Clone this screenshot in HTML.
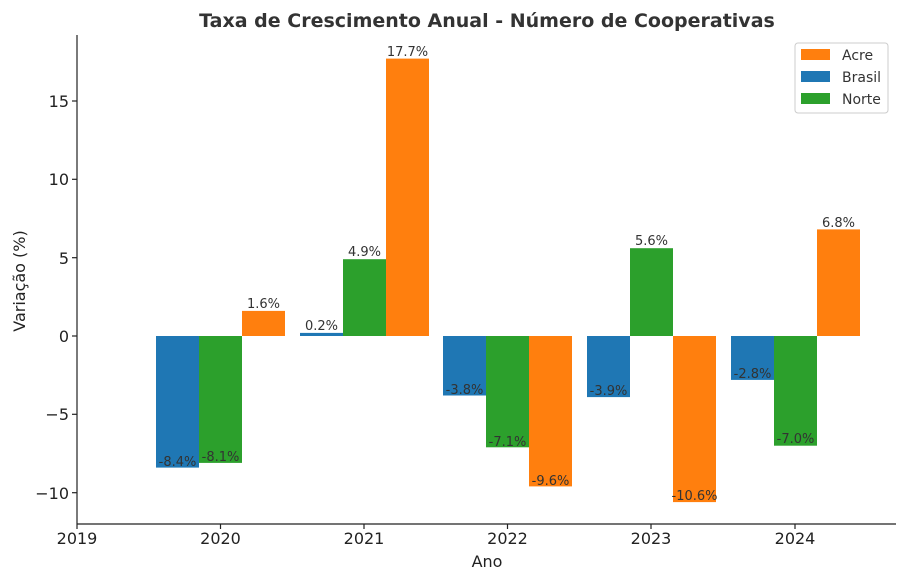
<!DOCTYPE html>
<html><head><meta charset="utf-8"><style>body{margin:0;background:#fff}svg{display:block;font-family:"DejaVu Sans","Liberation Sans",sans-serif}</style></head>
<body>
<svg width="906" height="581" viewBox="0 0 906 581" xmlns="http://www.w3.org/2000/svg">
<rect width="906" height="581" fill="#fff"/>
<text x="487" y="27" text-anchor="middle" font-size="19" font-weight="bold" fill="#333">Taxa de Crescimento Anual - Número de Cooperativas</text>
<g fill="#1f77b4">
<rect x="156" y="336" width="43" height="131.6"/>
<rect x="300" y="332.9" width="43" height="3.1"/>
<rect x="443" y="336" width="43" height="59.5"/>
<rect x="587" y="336" width="43" height="61.1"/>
<rect x="731" y="336" width="43" height="43.9"/>
</g>
<g fill="#2ca02c">
<rect x="199" y="336" width="43" height="126.9"/>
<rect x="343" y="259.2" width="43" height="76.8"/>
<rect x="486" y="336" width="43" height="111.3"/>
<rect x="630" y="248.2" width="43" height="87.8"/>
<rect x="774" y="336" width="43" height="109.7"/>
</g>
<g fill="#ff7f0e">
<rect x="242" y="310.9" width="43" height="25.1"/>
<rect x="386" y="58.6" width="43" height="277.4"/>
<rect x="529" y="336" width="43" height="150.4"/>
<rect x="673" y="336" width="43" height="166.1"/>
<rect x="817" y="229.4" width="43" height="106.6"/>
</g>
<g font-size="13" fill="#333" text-anchor="middle">
<text x="177.5" y="466">-8.4%</text>
<text x="220.5" y="461">-8.1%</text>
<text x="263.5" y="308">1.6%</text>
<text x="321.5" y="330">0.2%</text>
<text x="364.5" y="256">4.9%</text>
<text x="407.5" y="56">17.7%</text>
<text x="464.5" y="394">-3.8%</text>
<text x="507.5" y="446">-7.1%</text>
<text x="550.5" y="485">-9.6%</text>
<text x="608.5" y="395">-3.9%</text>
<text x="651.5" y="245">5.6%</text>
<text x="694.5" y="500">-10.6%</text>
<text x="752.5" y="378">-2.8%</text>
<text x="795.5" y="443">-7.0%</text>
<text x="838.5" y="227">6.8%</text>
</g>
<g stroke="#222" stroke-width="1.2" fill="none">
<line x1="77" y1="35" x2="77" y2="524"/>
<line x1="77" y1="524" x2="896" y2="524"/>
<line x1="72" y1="101" x2="77" y2="101"/>
<line x1="72" y1="179.3" x2="77" y2="179.3"/>
<line x1="72" y1="257.7" x2="77" y2="257.7"/>
<line x1="72" y1="336" x2="77" y2="336"/>
<line x1="72" y1="414.3" x2="77" y2="414.3"/>
<line x1="72" y1="492.7" x2="77" y2="492.7"/>
<line x1="77" y1="524" x2="77" y2="529"/>
<line x1="220.5" y1="524" x2="220.5" y2="529"/>
<line x1="364" y1="524" x2="364" y2="529"/>
<line x1="507.5" y1="524" x2="507.5" y2="529"/>
<line x1="651" y1="524" x2="651" y2="529"/>
<line x1="795" y1="524" x2="795" y2="529"/>
</g>
<g font-size="16" fill="#222" text-anchor="end">
<text x="69" y="107">15</text>
<text x="69" y="185">10</text>
<text x="69" y="264">5</text>
<text x="69" y="342">0</text>
<text x="69" y="420">−5</text>
<text x="69" y="499">−10</text>
</g>
<g font-size="16" fill="#222" text-anchor="middle">
<text x="77" y="544">2019</text>
<text x="220.5" y="544">2020</text>
<text x="364" y="544">2021</text>
<text x="507.5" y="544">2022</text>
<text x="651" y="544">2023</text>
<text x="795" y="544">2024</text>
<text x="487" y="567">Ano</text>
<text transform="translate(25,281) rotate(-90)">Variação (%)</text>
</g>
<rect x="795" y="43" width="93" height="70" rx="3" fill="#fff" stroke="#ccc"/>
<rect x="801" y="49" width="29" height="11" fill="#ff7f0e"/>
<rect x="801" y="71" width="29" height="11" fill="#1f77b4"/>
<rect x="801" y="93" width="29" height="11" fill="#2ca02c"/>
<g font-size="14" fill="#333">
<text x="842" y="60">Acre</text>
<text x="842" y="82">Brasil</text>
<text x="842" y="104">Norte</text>
</g>
</svg>
</body></html>
